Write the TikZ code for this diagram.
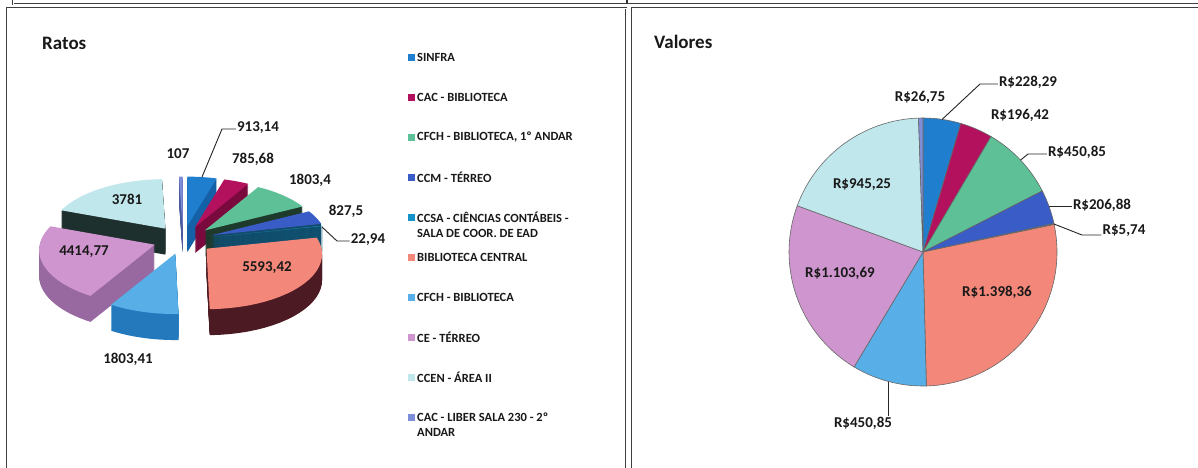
\documentclass[tikz,border=0pt]{standalone}
\usepackage{fontspec}
\setmainfont{Carlito}
\usepackage{xcolor}
\usepackage{tikz}
\usetikzlibrary{positioning}

\definecolor{sinfra}{HTML}{1F7FCE}
\definecolor{sinfraside}{HTML}{1561A8}
\definecolor{cac}{HTML}{B3115E}
\definecolor{cacside}{HTML}{7A0A3E}
\definecolor{cfchum}{HTML}{5EC096}
\definecolor{cfchumside}{HTML}{1E3A2C}
\definecolor{ccm}{HTML}{3A5CC6}
\definecolor{ccmside}{HTML}{124A68}
\definecolor{ccsa}{HTML}{1593C8}
\definecolor{ccsaside}{HTML}{0E5878}
\definecolor{central}{HTML}{F3887A}
\definecolor{centralside}{HTML}{4C1A22}
\definecolor{cfch}{HTML}{58AFE8}
\definecolor{cfchside}{HTML}{2478BC}
\definecolor{ce}{HTML}{CF95CF}
\definecolor{ceside}{HTML}{9868A0}
\definecolor{ccen}{HTML}{C0E7EC}
\definecolor{ccenside}{HTML}{1E302E}
\definecolor{liber}{HTML}{7F8ED8}
\definecolor{liberside}{HTML}{4A5AA0}

% one exploded slice of the 3d pie: start, end, top colour, side colour
\newcommand{\ratoslice}[4]{%
  \pgfmathsetmacro{\slmid}{(#1+#2)/2}%
  \pgfmathsetmacro{\slox}{30*cos(\slmid)}%
  \pgfmathsetmacro{\sloy}{14*sin(\slmid)}%
  \foreach \d in {26,25,...,1}{%
    \fill[#4,yshift=-\d] (\slox,\sloy) -- plot[domain=#1:#2,samples=24,variable=\t]
      ({\slox+115*(1-0.1*sin(\t))*cos(\t)},{\sloy+55*(1-0.1*sin(\t))*sin(\t)}) -- cycle;}
  \fill[#3] (\slox,\sloy) -- plot[domain=#1:#2,samples=24,variable=\t]
      ({\slox+115*(1-0.1*sin(\t))*cos(\t)},{\sloy+55*(1-0.1*sin(\t))*sin(\t)}) -- cycle;}

% one slice of the flat pie: start, end, colour
\newcommand{\valslice}[3]{%
  \fill[#3,draw=black!60,line width=0.6pt] (0,0) -- (#1:134) arc[start angle=#1,end angle=#2,radius=134] -- cycle;}

\begin{document}
\begin{tikzpicture}[x=1pt,y=1pt,
    frame/.style={draw=black!75,line width=0.7pt,double=white,double distance=0.9pt},
    title/.style={font=\fontsize{19}{22}\selectfont\bfseries,text=black!90,inner sep=0pt,anchor=west},
    val/.style={font=\fontsize{15}{18}\selectfont\bfseries,text=black!90,inner sep=1pt},
    lead/.style={draw=black!85,line width=0.9pt},
    key/.style={font=\fontsize{12.5}{15}\selectfont\bfseries,text=black!90,anchor=west,align=left,inner sep=0pt}]
\useasboundingbox (0,0) rectangle (1198,-467);
\fill[white] (0,0) rectangle (1198,-467);

% frames
\draw[frame] (13,2) |- (1202,-4);
\draw[draw=black!80,line width=1.4pt] (627,2) -- (627,-4);
\draw[frame] (7,-472) |- (626,-8) -- (626,-472);
\draw[frame] (632,-472) |- (1202,-8);

\node[title] (ratos) at (42,-43) {Ratos};
\node[title] (valores) at (654,-42) {Valores};

% legend
\foreach \m/\y/\c/\t in {57/57/sinfra/SINFRA, 97/97/cac/CAC - BIBLIOTECA,
    137/137/cfchum/{CFCH - BIBLIOTECA, 1º ANDAR}, 177/177/ccm/CCM - TÉRREO,
    217/224.5/ccsa/{CCSA - CIÊNCIAS CONTÁBEIS -\\SALA DE COOR. DE EAD},
    257/257/central/BIBLIOTECA CENTRAL, 297/297/cfch/CFCH - BIBLIOTECA,
    337/337/ce/CE - TÉRREO, 377/377/ccen/CCEN - ÁREA II,
    417/424.5/liber/{CAC - LIBER SALA 230 - 2º\\ANDAR}}{
  \fill[\c] (408,-\m-3.5) rectangle ++(7,7);
  \node[key] (key\m) at (417,-\y) {\t};
}

% ratos, 3d pie
\begin{scope}[shift={(183,-240)}]
  \ratoslice{91.91}{90}{liber}{liberside}
  \ratoslice{90}{73.61}{sinfra}{sinfraside}
  \ratoslice{73.61}{59.50}{cac}{cacside}
  \ratoslice{-200.21}{-268.09}{ccen}{ccenside}
  \ratoslice{59.50}{27.12}{cfchum}{cfchumside}
  \ratoslice{27.12}{12.26}{ccm}{ccmside}
  \ratoslice{12.26}{11.85}{ccsa}{ccsaside}
  \ratoslice{-120.95}{-200.21}{ce}{ceside}
  \ratoslice{11.85}{-88.57}{central}{centralside}
  \ratoslice{-88.57}{-120.95}{cfch}{cfchside}
  \coordinate (p913) at (19,63);
  \coordinate (p22) at (139,13);
\end{scope}

\node[val] (v913) at (258,-128) {913,14};
\node[val] (v107) at (178,-154) {107};
\node[val] (v785) at (253,-159) {785,68};
\node[val] (v1803a) at (310,-180) {1803,4};
\node[val] (v827) at (346,-211) {827,5};
\node[val] (v22) at (368,-240) {22,94};
\node[val] (v3781) at (127,-199) {3781};
\node[val] (v4414) at (84,-252) {4414,77};
\node[val] (v5593) at (267,-268) {5593,42};
\node[val] (v1803b) at (128,-359) {1803,41};
\coordinate (k913) at (222,-129);
\coordinate (k22) at (337,-241);
\draw[lead] (p913) -- (k913) -- (k913 -| v913.west);
\draw[lead] (p22) -- (k22) -- (k22 -| v22.west);

% valores, flat pie
\begin{scope}[shift={(923,-252)}]
  \valslice{90}{73.61}{sinfra}
  \valslice{73.61}{59.50}{cac}
  \valslice{59.50}{27.12}{cfchum}
  \valslice{27.12}{12.26}{ccm}
  \valslice{12.26}{11.85}{ccsa}
  \valslice{11.85}{-88.57}{central}
  \valslice{-88.57}{-120.95}{cfch}
  \valslice{-120.95}{-200.21}{ce}
  \valslice{-200.21}{-268.09}{ccen}
  \valslice{-268.09}{-270}{liber}
  \coordinate (p228) at (81.8:134);
  \coordinate (p450a) at (43.3:134);
  \coordinate (p206) at (19.7:134);
  \coordinate (p574) at (12.05:134);
  \coordinate (p450b) at (-104.8:134);
\end{scope}

\node[val] (r26) at (920,-97) {R\$26,75};
\node[val] (r228) at (1028,-82) {R\$228,29};
\node[val] (r196) at (1020,-115) {R\$196,42};
\node[val] (r450a) at (1077,-152) {R\$450,85};
\node[val] (r206) at (1102,-205) {R\$206,88};
\node[val] (r574) at (1124,-231) {R\$5,74};
\node[val] (r945) at (862,-185) {R\$945,25};
\node[val] (r1103) at (840,-273) {R\$1.103,69};
\node[val] (r1398) at (997,-292) {R\$1.398,36};
\node[val] (r450b) at (863,-423) {R\$450,85};
\coordinate (k228) at (980,-84);
\coordinate (k450a) at (1028,-154);
\coordinate (k574) at (1082,-235);
\draw[lead] (p228) -- (k228) -- (k228 -| r228.west);
\draw[lead] (p450a) -- (k450a) -- (k450a -| r450a.west);
\draw[lead] (p206) -- (p206 -| r206.west);
\draw[lead] (p574) -- (k574) -- (k574 -| r574.west);
\draw[lead] (p450b) -- (p450b |- r450b.north);
\end{tikzpicture}
\end{document}
